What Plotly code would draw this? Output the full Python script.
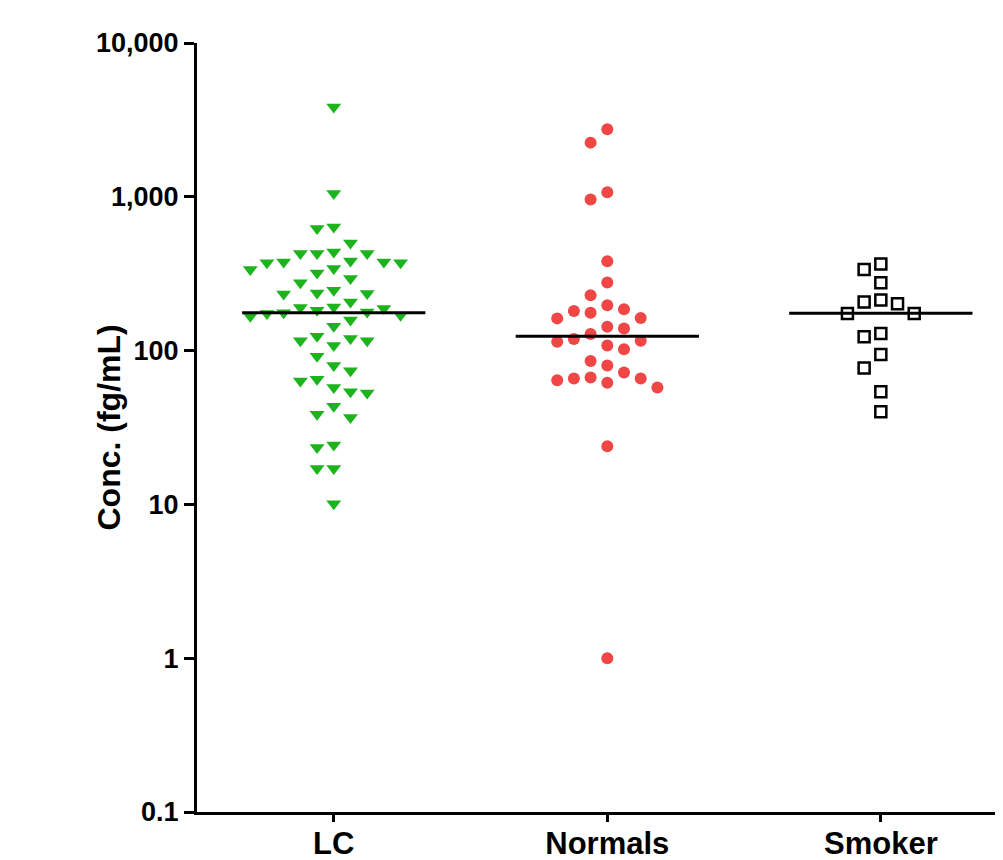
import numpy as np
import plotly.graph_objects as go

# ---------------- data ----------------
categories = ["LC", "Normals", "Smoker"]

lc_values = [3840, 1050, 637, 622, 501, 438, 428, 428, 428, 377, 372, 372, 377, 383,
             342, 320, 337, 294, 276, 237, 233, 247, 235, 207, 183, 176, 170, 191,
             158, 188, 144, 192, 167, 174, 178, 124, 116, 108, 116, 92, 120, 80, 74,
             65, 63.5, 57.5, 53, 54, 43.5, 38.6, 36.7, 23.4, 24.3, 17.1, 17.1, 10.1]

normals_values = [2750, 2250, 1070, 960, 381, 277, 229, 197, 186, 181, 176, 163, 162,
                  143, 139, 128, 119, 116, 114, 108, 102, 85.7, 80, 72, 66.8, 65.8,
                  65.8, 64.2, 61.7, 57.5, 23.9, 1.0]

smoker_values = [365, 337, 276, 213, 207, 202, 174, 174, 129, 123, 94.3, 77.2, 54, 40]

medians = [176, 124, 175]

y_tick_vals = [0.1, 1, 10, 100, 1000, 10000]
y_tick_text = ["0.1", "1", "10", "100", "1,000", "10,000"]

# ---------------- layout geometry ----------------
# the page body has an 8px default margin, so the figure is sized to fit
W, H = 995, 852
M_L, M_R, M_T, M_B = 189, 1, 35, 48
X_RANGE = [-0.5, 2.443]
Y_RANGE = [-1, 4]
plot_w = W - M_L - M_R
plot_h = H - M_T - M_B
px_per_cat = plot_w / (X_RANGE[1] - X_RANGE[0])
px_per_dec = plot_h / (Y_RANGE[1] - Y_RANGE[0])
col_px = 16.7
col_w = col_px / px_per_cat
min_dy = 16.5


def swarm(values, center):
    """Simple column beeswarm (GraphPad-like scatter dot plot)."""
    ys = np.log10(np.asarray(values, dtype=float)) * px_per_dec
    order = np.argsort(-ys, kind="stable")
    placed = {}
    xs = np.zeros(len(values))
    seq = [0]
    for k in range(1, 30):
        seq += [-k, k]
    for i in order:
        for c in seq:
            if all(abs(ys[i] - py) >= min_dy for py in placed.get(c, [])):
                placed.setdefault(c, []).append(ys[i])
                xs[i] = center + c * col_w
                break
    return xs


fig = go.Figure()

groups = [
    (lc_values, dict(symbol="triangle-down", size=13, color="#1db31d",
                     line=dict(width=0))),
    (normals_values, dict(symbol="circle", size=12, color="#f04646",
                          line=dict(width=0))),
    (smoker_values, dict(symbol="square", size=11, color="white",
                         line=dict(width=2.5, color="black"))),
]

for gi, (vals, mk) in enumerate(groups):
    fig.add_trace(go.Scatter(
        x=swarm(vals, gi), y=vals, mode="markers", marker=mk,
        name=categories[gi], showlegend=False, cliponaxis=False,
    ))

half = 0.335
for gi, med in enumerate(medians):
    fig.add_trace(go.Scatter(
        x=[gi - half, gi + half], y=[med, med], mode="lines",
        line=dict(color="black", width=3), showlegend=False, hoverinfo="skip",
    ))

font_family = "Liberation Sans, Arial, Helvetica, sans-serif"

fig.update_layout(
    width=W, height=H,
    margin=dict(l=M_L, r=M_R, t=M_T, b=M_B, pad=0),
    paper_bgcolor="white", plot_bgcolor="white",
    font=dict(family=font_family, color="black"),
    xaxis=dict(
        range=X_RANGE, tickvals=[0, 1, 2], ticktext=[f"<b>{c}</b>" for c in categories],
        showgrid=False, zeroline=False, showline=True, linecolor="black", linewidth=3,
        ticks="outside", ticklen=7, tickwidth=3, tickcolor="black",
        tickfont=dict(size=31, family=font_family, color="black"),
        ticklabelstandoff=-5,
        automargin=False,
    ),
    yaxis=dict(
        type="log", range=Y_RANGE, tickvals=y_tick_vals,
        ticktext=[f"<b>{t}</b>" for t in y_tick_text],
        showgrid=False, zeroline=False, showline=True, linecolor="black", linewidth=3,
        ticks="outside", ticklen=10, tickwidth=3, tickcolor="black",
        tickfont=dict(size=27, family=font_family, color="black"),
        automargin=False,
    ),
    annotations=[dict(
        text="<b>Conc. (fg/mL)</b>", textangle=-90,
        xref="paper", yref="paper", x=(100 - M_L) / plot_w, y=0.5,
        xanchor="center", yanchor="middle", showarrow=False,
        font=dict(size=32, family=font_family, color="black"),
    )],
)

fig.write_html("out.html")
